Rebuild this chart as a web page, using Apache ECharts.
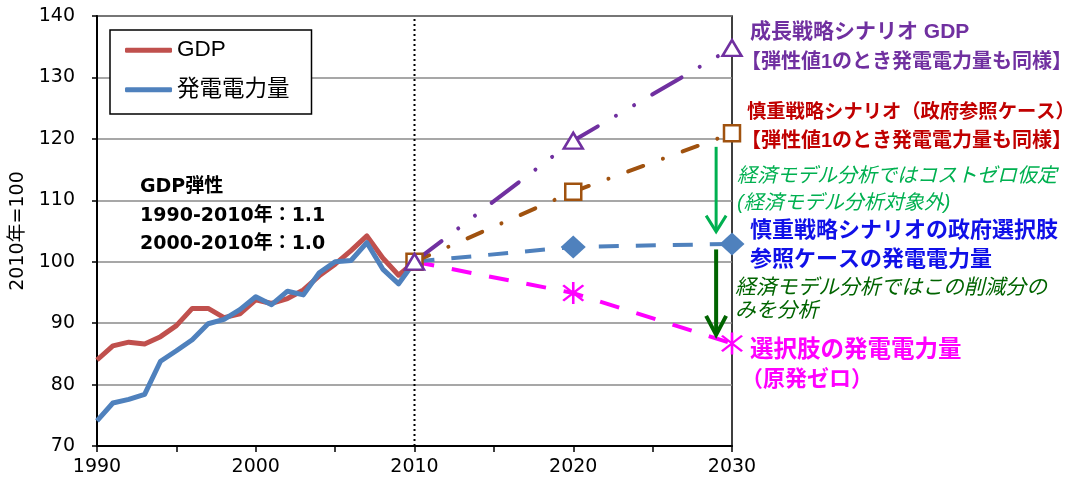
<!DOCTYPE html>
<html>
<head>
<meta charset="utf-8">
<script src="https://cdn.jsdelivr.net/npm/echarts@6/dist/echarts.min.js"></script>
<style>
  html, body { margin: 0; padding: 0; background: #fff; }
  #chart { width: 1078px; height: 489px; }
</style>
</head>
<body>
<div id="chart"></div>
<script>
// ---- data (index, 2010 = 100) ----
const histYears = [1990, 1991, 1992, 1993, 1994, 1995, 1996, 1997, 1998, 1999, 2000,
                   2001, 2002, 2003, 2004, 2005, 2006, 2007, 2008, 2009, 2010];
const gdpHist   = [84.0, 86.3, 86.9, 86.6, 87.8, 89.6, 92.4, 92.4, 90.9, 91.5, 93.8,
                   93.2, 94.0, 95.4, 97.7, 99.6, 101.8, 104.2, 100.6, 97.8, 100];
const powerHist = [74.1, 77.0, 77.6, 78.4, 83.8, 85.5, 87.3, 89.9, 90.6, 92.2, 94.3,
                   93.0, 95.2, 94.6, 98.2, 100.0, 100.2, 103.1, 98.8, 96.4, 100];

const projYears      = [2010, 2020, 2030];
const growthGdp      = [100, 119.7, 134.8];   // 成長戦略シナリオ GDP
const cautiousGdp    = [100, 111.4, 120.9];   // 慎重戦略シナリオ（政府参照ケース）
const cautiousPower  = [100, 102.4, 102.9];   // 政府選択肢 参照ケースの発電電力量
const zeroNuclear    = [100, 94.9, 86.7];     // 選択肢の発電電力量（原発ゼロ）

const baseYear = 2010;
const yTicks = { min: 70, max: 140, step: 10 };
const xTicks = { min: 1990, max: 2030, step: 5, labelStep: 10 };

// reduction arrows at the 2030 column: [year, from, to]
const arrowSpans = [[2029, 118.7, 104.9], [2029, 102.0, 88.1]];

const legendNames = ['GDP', '発電電力量'];
const yAxisTitle = '2010年=100';
const elasticityLines = ['GDP弾性', '1990-2010年：1.1', '2000-2010年：1.0'];
const noteLines = [
  '成長戦略シナリオ GDP',
  '【弾性値1のとき発電電力量も同様】',
  '慎重戦略シナリオ（政府参照ケース）',
  '【弾性値1のとき発電電力量も同様】',
  '経済モデル分析ではコストゼロ仮定',
  '(経済モデル分析対象外)',
  '慎重戦略シナリオの政府選択肢',
  '参照ケースの発電電力量',
  '経済モデル分析ではこの削減分の',
  'みを分析',
  '選択肢の発電電力量',
  '（原発ゼロ）'
];

// ---- styling ----
const FONT = '"Liberation Sans", "Noto Sans CJK JP", sans-serif';
const NUMFONT = '"DejaVu Sans", "Noto Sans CJK JP", sans-serif';
const C = {
  gdp: '#C0504D', power: '#4F81BD', purple: '#7030A0', brown: '#A0520F',
  blue: '#4F81BD', magenta: '#FF00FF', red: '#C00000', green: '#00B050',
  darkGreen: '#006400', textBlue: '#1010E8'
};

// asterisk marker: a vertical bar plus an X
const ASTERISK = 'path://M-0.9,-10 L0.9,-10 L0.9,10 L-0.9,10 Z ' +
  'M-6.4,-7.7 L7.7,6.4 L6.4,7.7 L-7.7,-6.4 Z ' +
  'M-7.7,6.4 L6.4,-7.7 L7.7,-6.4 L-6.4,7.7 Z';

const pairs = (xs, ys) => xs.map((x, i) => [x, ys[i]]);

function projSeries(name, values, color, dash, cap, symbol, size, hollow, firstSymbol) {
  return {
    name, type: 'line', z: 4,
    data: pairs(projYears, values).map((p, i) => (i === 0 && !firstSymbol) ? { value: p, symbol: 'none' } : { value: p }),
    symbol, symbolSize: size, showSymbol: true,
    lineStyle: { color, width: 4, type: dash, cap },
    itemStyle: hollow ? { color: '#fff', borderColor: color, borderWidth: 2.5 } : { color, borderWidth: 0 },
    emphasis: { disabled: true }, animation: false
  };
}

const arrowColors = [C.green, C.darkGreen];
const arrowWidths = [3, 4];
const arrowHeads = [[10, 16], [10, 19]];

const chart = echarts.init(document.getElementById('chart'), null, { renderer: 'canvas' });

const noteStyle = [
  { c: C.purple, w: 'bold', s: 21, it: false, x: 750, y: 32 },
  { c: C.purple, w: 'bold', s: 20, it: false, x: 741, y: 62 },
  { c: C.red, w: 'bold', s: 19.3, it: false, x: 747, y: 113 },
  { c: C.red, w: 'bold', s: 20, it: false, x: 741, y: 141 },
  { c: C.green, w: 'normal', s: 20, it: true, x: 737, y: 176 },
  { c: C.green, w: 'normal', s: 20, it: true, x: 737, y: 203 },
  { c: C.textBlue, w: 'bold', s: 22, it: false, x: 750, y: 231 },
  { c: C.textBlue, w: 'bold', s: 22, it: false, x: 750, y: 260 },
  { c: C.darkGreen, w: 'normal', s: 20.8, it: true, x: 735, y: 288 },
  { c: C.darkGreen, w: 'normal', s: 20.8, it: true, x: 735, y: 311 },
  { c: C.magenta, w: 'bold', s: 23.5, it: false, x: 750, y: 351 },
  { c: C.magenta, w: 'bold', s: 22, it: false, x: 741, y: 380 }
];

const graphics = [];
noteLines.forEach((t, i) => {
  const s = noteStyle[i];
  graphics.push({
    type: 'text', x: s.x, y: s.y, z: 10,
    style: {
      text: t, fill: s.c, verticalAlign: 'middle',
      font: (s.it ? 'italic ' : '') + s.w + ' ' + s.s + 'px ' + FONT
    }
  });
});
elasticityLines.forEach((t, i) => {
  graphics.push({
    type: 'text', x: 140, y: [187, 216, 244][i], z: 10,
    style: { text: t, fill: '#000', verticalAlign: 'middle', font: 'bold 19px ' + NUMFONT }
  });
});

const option = {
  animation: false,
  backgroundColor: '#fff',
  grid: { left: 97, right: 346, top: 16, bottom: 43, show: true, borderColor: '#000', borderWidth: 1.5 },
  legend: {
    data: legendNames, orient: 'vertical', left: 110, top: 30,
    backgroundColor: '#fff', borderColor: '#000', borderWidth: 1.5,
    padding: [9, 22, 13, 15], itemGap: 17, itemWidth: 47, itemHeight: 5,
    icon: 'roundRect',
    textStyle: { fontSize: 22.5, color: '#000', fontFamily: FONT }
  },
  xAxis: {
    type: 'value', min: xTicks.min, max: xTicks.max, interval: xTicks.step,
    axisLine: { show: true, lineStyle: { color: '#000', width: 2 } },
    axisTick: { show: true, inside: false, length: 6, lineStyle: { color: '#000', width: 1.5 } },
    axisLabel: {
      color: '#000', fontSize: 19, fontFamily: NUMFONT, margin: 12,
      formatter: v => (v % xTicks.labelStep === 0 ? String(v) : '')
    },
    splitLine: { show: false }
  },
  yAxis: {
    type: 'value', min: yTicks.min, max: yTicks.max, interval: yTicks.step,
    name: yAxisTitle, nameLocation: 'middle', nameGap: 69, nameRotate: 90,
    nameTextStyle: { color: '#000', fontSize: 19, fontFamily: NUMFONT },
    axisLine: { show: true, lineStyle: { color: '#000', width: 2 } },
    axisTick: { show: true, inside: false, length: 5, lineStyle: { color: '#000', width: 1.5 } },
    axisLabel: { color: '#000', fontSize: 19, fontFamily: NUMFONT, margin: 22 },
    splitLine: { show: true, lineStyle: { color: '#8a8a8a', width: 1.5 } }
  },
  graphic: graphics,
  series: [
    {
      name: 'ref2010', type: 'line', z: 1, symbol: 'none', silent: true,
      data: [[baseYear, yTicks.min], [baseYear, yTicks.max]],
      lineStyle: { color: '#000', width: 2, type: [2, 3] }
    },
    {
      name: legendNames[0], type: 'line', z: 3, symbol: 'none', color: C.gdp,
      data: pairs(histYears, gdpHist),
      lineStyle: { color: C.gdp, width: 5, join: 'round' }
    },
    {
      name: legendNames[1], type: 'line', z: 3, symbol: 'none', color: C.power,
      data: pairs(histYears, powerHist),
      lineStyle: { color: C.power, width: 5, join: 'round' }
    },
    projSeries('zeroNuclear', zeroNuclear, C.magenta, [20, 18], 'butt', ASTERISK, 22, false, false),
    projSeries('cautiousPower', cautiousPower, C.blue, [20, 17], 'butt', 'diamond', [25, 23], false, false),
    projSeries('cautiousGdp', cautiousGdp, C.brown, [16, 21, 0.01, 21], 'round', 'rect', 16, true, true),
    projSeries('growthGdp', growthGdp, C.purple, [34, 21, 0.01, 21, 0.01, 21], 'round', 'triangle', [19, 16], true, true),
    {
      name: 'arrows', type: 'custom', z: 5, silent: true,
      data: arrowSpans,
      renderItem: (params, api) => {
        const i = params.dataIndex;
        const p0 = api.coord([api.value(0), api.value(1)]);
        const p1 = api.coord([api.value(0), api.value(2)]);
        const [hw, hh] = arrowHeads[i];
        const st = { stroke: arrowColors[i], lineWidth: arrowWidths[i], fill: null, lineJoin: 'miter' };
        return {
          type: 'group',
          children: [
            { type: 'line', shape: { x1: p0[0], y1: p0[1], x2: p1[0], y2: p1[1] - 2 }, style: st },
            { type: 'polyline', shape: { points: [[p1[0] - hw, p1[1] - hh], [p1[0], p1[1]], [p1[0] + hw, p1[1] - hh]] }, style: st }
          ]
        };
      }
    }
  ]
};

chart.setOption(option);
</script>
</body>
</html>
